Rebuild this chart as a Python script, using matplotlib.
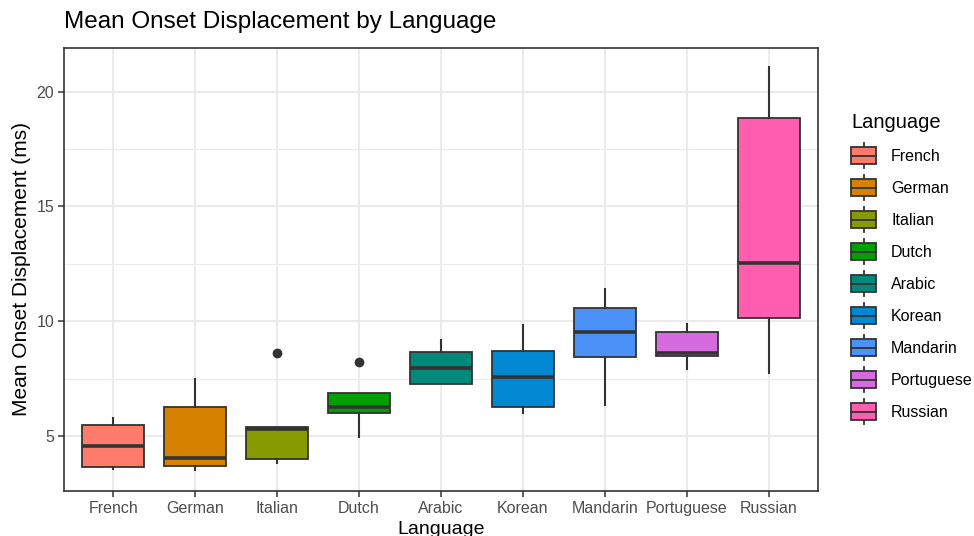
import matplotlib
matplotlib.use("Agg")
import matplotlib.pyplot as plt
from matplotlib.legend_handler import HandlerBase
from matplotlib.patches import Rectangle
from matplotlib.lines import Line2D

plt.rcParams["font.family"] = ["Liberation Sans", "DejaVu Sans"]

# Summary statistics per language (ms)
languages = ["French", "German", "Italian", "Dutch", "Arabic",
             "Korean", "Mandarin", "Portuguese", "Russian"]
whisker_low = [3.58, 3.50, 3.80, 4.96, 7.25, 6.00, 6.33, 7.90, 7.75]
q1 = [3.65, 3.71, 4.00, 5.99, 7.28, 6.28, 8.42, 8.48, 10.12]
median = [4.58, 4.03, 5.31, 6.25, 7.97, 7.56, 9.54, 8.61, 12.52]
q3 = [5.47, 6.25, 5.38, 6.86, 8.65, 8.69, 10.56, 9.54, 18.86]
whisker_high = [5.80, 7.50, 5.38, 6.86, 9.16, 9.83, 11.38, 9.86, 21.08]
outliers = [[], [], [8.61], [8.24], [], [], [], [], []]

colors = ["#FF7B6C", "#D48200", "#879A00", "#00A000", "#00897B",
          "#0088D2", "#4A91F8", "#D66BE0", "#FF5DAE"]

EDGE = "#333333"
GRID = "#EBEBEB"
TEXT = "#4D4D4D"

fig = plt.figure(figsize=(9.74, 5.36), dpi=100)
ax = fig.add_axes([64 / 974, 1 - 491 / 536, 754 / 974, 443 / 536])

stats = []
for i, name in enumerate(languages):
    stats.append(dict(label=name, whislo=whisker_low[i], q1=q1[i], med=median[i],
                      q3=q3[i], whishi=whisker_high[i], fliers=outliers[i]))

positions = list(range(1, len(languages) + 1))
bp = ax.bxp(stats, positions=positions, widths=0.75, patch_artist=True,
            showcaps=False,
            boxprops=dict(edgecolor=EDGE, linewidth=1.3),
            medianprops=dict(color=EDGE, linewidth=2.6, solid_capstyle="butt"),
            whiskerprops=dict(color=EDGE, linewidth=1.5),
            flierprops=dict(marker="o", markersize=6, markerfacecolor=EDGE,
                            markeredgecolor=EDGE),
            zorder=3)
for patch, c in zip(bp["boxes"], colors):
    patch.set_facecolor(c)

ax.set_xlim(0.4, 9.6)
ax.set_ylim(2.6, 21.9)
ax.set_xticks(positions)
ax.set_xticklabels(languages)
ax.set_yticks([5, 10, 15, 20])
ax.set_yticks([7.5, 12.5, 17.5], minor=True)
ax.grid(True, which="major", color=GRID, linewidth=1.5, zorder=0)
ax.grid(True, which="minor", axis="y", color=GRID, linewidth=0.8, zorder=0)
ax.set_axisbelow(True)
ax.tick_params(axis="both", which="major", length=4, width=1.1, color="#333333",
               labelsize=11.5, labelcolor=TEXT, pad=3)
ax.tick_params(axis="y", which="minor", length=0)
for s in ax.spines.values():
    s.set_color("#333333")
    s.set_linewidth(1.2)

ax.set_xlabel("Language", fontsize=14, labelpad=4, color="black")
ax.set_ylabel("Mean Onset Displacement (ms)", fontsize=15, labelpad=4, color="black")
fig.text(64 / 974, 1 - 22 / 536, "Mean Onset Displacement by Language",
         fontsize=17.5, ha="left", va="center")


class BoxKey(HandlerBase):
    def create_artists(self, legend, orig_handle, xdescent, ydescent,
                       width, height, fontsize, trans):
        x0, y0 = -xdescent, -ydescent
        cx = x0 + width / 2
        b0, b1 = y0 + height * 0.16, y0 + height * 0.84
        ym = (b0 + b1) / 2
        arts = [
            Line2D([cx, cx], [y0, b0], color=EDGE, lw=1.3),
            Line2D([cx, cx], [b1, y0 + height], color=EDGE, lw=1.3),
            Rectangle((x0, b0), width, b1 - b0, facecolor=orig_handle.get_facecolor(),
                      edgecolor=EDGE, lw=1.3),
            Line2D([x0, x0 + width], [ym, ym], color=EDGE, lw=1.3),
        ]
        for a in arts:
            a.set_transform(trans)
        return arts


handles = [Rectangle((0, 0), 1, 1, facecolor=c) for c in colors]
leg = fig.legend(handles, languages, handler_map={Rectangle: BoxKey()},
                 loc="upper left", bbox_to_anchor=(851 / 974, 1 - 113 / 536),
                 frameon=False, fontsize=11.5, title="Language", title_fontsize=14.5,
                 handlelength=1.57, handleheight=2.03, labelspacing=0.44,
                 handletextpad=0.94, borderaxespad=0, borderpad=0)
leg._legend_box.align = "left"
leg._legend_box.sep = 8

fig.savefig("out.png", dpi=100)
